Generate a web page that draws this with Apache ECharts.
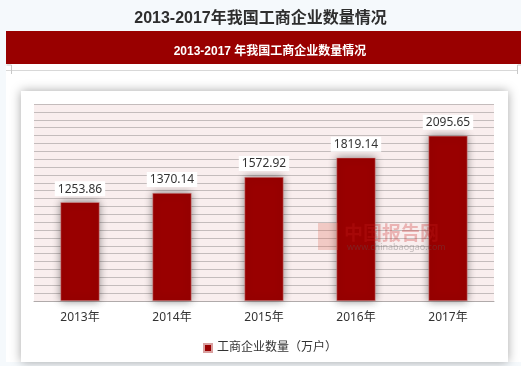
<!DOCTYPE html>
<html><head><meta charset="utf-8">
<script src="https://cdn.jsdelivr.net/npm/echarts@6/dist/echarts.min.js"></script>
<style>html,body{margin:0;padding:0;background:#f5f9fc;}#c{width:521px;height:366px;}</style>
</head><body><div id="c"></div>
<script>
const categories = ['2013年','2014年','2015年','2016年','2017年'];
const values = [1253.86, 1370.14, 1572.92, 1819.14, 2095.65];
const seriesName = '工商企业数量（万户）';
const pageTitle = '2013-2017年我国工商企业数量情况';
const bannerTitle = '2013-2017 年我国工商企业数量情况';

const chart = echarts.init(document.getElementById('c'), null, {renderer:'canvas'});
const FONT = '"Noto Sans","Noto Sans CJK SC",sans-serif';
chart.setOption({
  backgroundColor: '#f5f9fc',
  animation: false,
  textStyle: {fontFamily: FONT},
  title: [
    {text: pageTitle, left: 'center', top: 6, textStyle: {fontSize: 16, fontWeight: 'bold', color: '#2e2e2e', fontFamily: '"Liberation Sans","Noto Sans CJK SC",sans-serif'}},
    {text: bannerTitle, left: 265, textAlign: 'center', top: 41, textStyle: {fontSize: 12, fontWeight: 'bold', color: '#fff', fontFamily: '"Liberation Sans","Noto Sans CJK SC",sans-serif'}}
  ],
  graphic: [
    {type: 'rect', z: -10, shape: {x: 6, y: 64, width: 515, height: 298}, style: {fill: '#ffffff'}},
    {type: 'rect', z: -9, shape: {x: 6, y: 31, width: 515, height: 33}, style: {fill: '#990000'}},
    {type: 'line', z: -9, shape: {x1: 6, y1: 70.5, x2: 518, y2: 70.5}, style: {stroke: '#d8d8d8', lineWidth: 1}},
    {type: 'polyline', z: -9, shape: {points: [[6.5,65],[11.5,65],[11.5,74]]}, style: {stroke: '#c8c8c8', fill: null, lineWidth: 1}},
    {type: 'polyline', z: -9, shape: {points: [[521,65],[517.5,65],[517.5,74]]}, style: {stroke: '#c8c8c8', fill: null, lineWidth: 1}},
    {type: 'rect', z: -8, shape: {x: 21, y: 91, width: 487, height: 271}, style: {fill: '#ffffff', shadowBlur: 10, shadowColor: 'rgba(0,0,0,0.35)'}},
    {type: 'rect', z: 50, shape: {x: 318, y: 223, width: 20, height: 27}, style: {fill: 'rgba(220,90,70,0.25)'}},
    {type: 'text', z: 50, style: {x: 344, y: 223, text: '中国报告网', fill: 'rgba(200,30,30,0.28)', font: 'bold 19px "Noto Sans CJK SC",sans-serif'}},
    {type: 'text', z: 50, style: {x: 347, y: 243, text: 'www.chinabaogao.com', fill: 'rgba(90,90,90,0.35)', font: '9px "Noto Sans",sans-serif'}}
  ],
  grid: {left: 34, right: 27, top: 104, bottom: 65, show: true, backgroundColor: '#f9eeee', borderWidth: 0},
  legend: {
    data: [seriesName], left: 198, top: 337, itemWidth: 8, itemHeight: 8, itemGap: 4, icon: 'rect',
    textStyle: {fontSize: 12, color: '#333', fontFamily: FONT}
  },
  xAxis: {
    type: 'category', data: categories,
    axisLine: {show: true, lineStyle: {color: '#b0aaaa', width: 1}},
    axisTick: {show: false},
    axisLabel: {color: '#333', fontSize: 12, margin: 11, fontFamily: FONT}
  },
  yAxis: {
    type: 'value', min: 0, max: 2500, interval: 100,
    axisLabel: {show: false}, axisLine: {show: false}, axisTick: {show: false},
    splitLine: {lineStyle: {color: '#c4bcbc', width: 1}}
  },
  series: [{
    name: seriesName, type: 'bar', data: values, barWidth: 39,
    itemStyle: {color: '#990000', borderColor: '#d9a0a0', borderWidth: 0.5, shadowBlur: 8, shadowColor: 'rgba(0,0,0,0.45)'},
    label: {show: true, position: 'top', distance: 6, color: '#333', fontSize: 12, backgroundColor: '#fff', padding: [2, 3, 1, 3], fontFamily: FONT}
  }]
});
</script></body></html>
